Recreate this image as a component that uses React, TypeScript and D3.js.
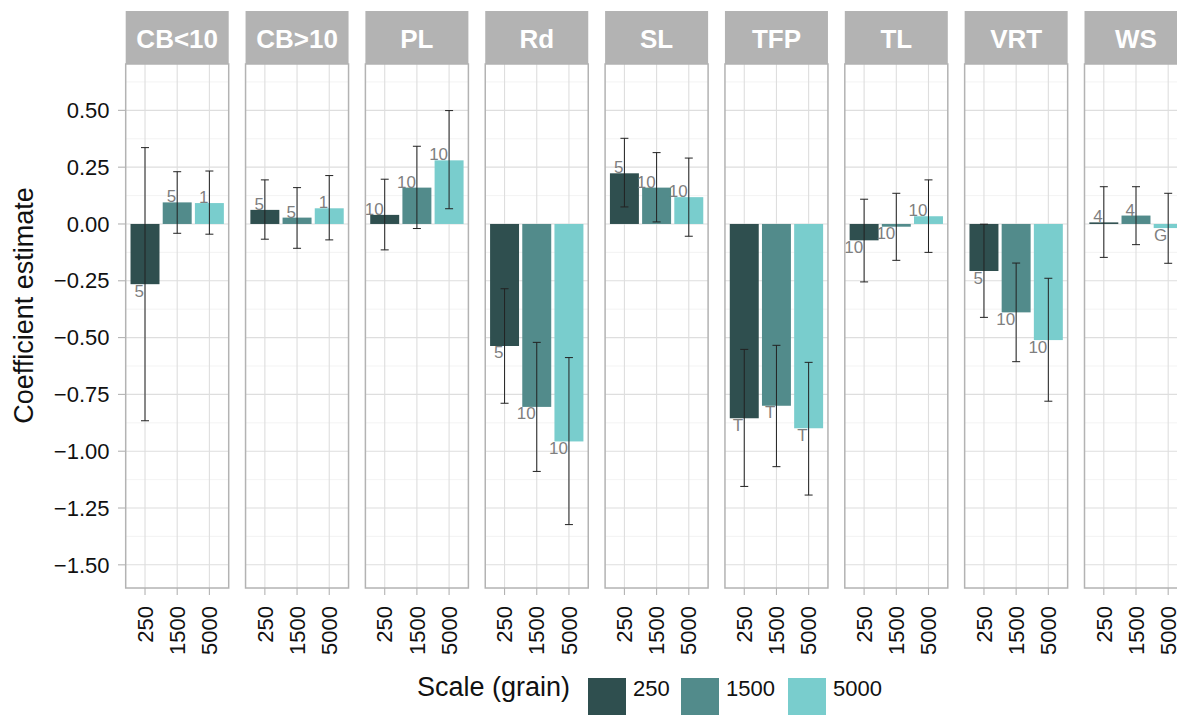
import * as d3 from "d3";

// facets, grains and per-grain estimates
const facets = ["CB<10", "CB>10", "PL", "Rd", "SL", "TFP", "TL", "VRT", "WS"];
const grains = ["250", "1500", "5000"];
const grainColors = ["#2F4F4F", "#528B8B", "#79CDCD"];

const est250 = [-0.265, 0.062, 0.04, -0.537, 0.223, -0.855, -0.072, -0.207, 0.007];
const est1500 = [0.095, 0.028, 0.16, -0.805, 0.16, -0.8, -0.012, -0.389, 0.037];
const est5000 = [0.092, 0.069, 0.28, -0.957, 0.118, -0.899, 0.034, -0.511, -0.018];

const lo250 = [-0.866, -0.067, -0.114, -0.789, 0.075, -1.155, -0.255, -0.411, -0.147];
const hi250 = [0.336, 0.194, 0.197, -0.285, 0.377, -0.552, 0.109, -0.001, 0.164];
const lo1500 = [-0.041, -0.107, -0.02, -1.089, 0.009, -1.068, -0.16, -0.606, -0.091];
const hi1500 = [0.23, 0.16, 0.342, -0.521, 0.314, -0.534, 0.135, -0.172, 0.164];
const lo5000 = [-0.045, -0.07, 0.067, -1.323, -0.054, -1.193, -0.125, -0.78, -0.173];
const hi5000 = [0.233, 0.213, 0.499, -0.588, 0.29, -0.609, 0.194, -0.239, 0.135];

const lab250 = ["5", "5", "10", "5", "5", "T", "10", "5", "4"];
const lab1500 = ["5", "5", "10", "10", "10", "T", "10", "10", "4"];
const lab5000 = ["1", "1", "10", "10", "10", "T", "10", "10", "G"];

const yTicks = [-1.5, -1.25, -1.0, -0.75, -0.5, -0.25, 0, 0.25, 0.5];
const yMinor = [-1.375, -1.125, -0.875, -0.625, -0.375, -0.125, 0.125, 0.375, 0.625];

const seriesEst = [est250, est1500, est5000];
const seriesLo = [lo250, lo1500, lo5000];
const seriesHi = [hi250, hi1500, hi5000];
const seriesLab = [lab250, lab1500, lab5000];

const W = 1177;
const H = 715;
const FONT = "'Liberation Sans', Arial, Helvetica, sans-serif";

export default function App() {
  const panelTop = 64;
  const panelBottom = 588;
  const stripTop = 11;
  const panelWidth = 103;
  const firstLeft = 125.7;
  const pitch = 119.85;

  const y = d3.scaleLinear([-1.602, 0.704], [panelBottom, panelTop]);
  const x = d3.scalePoint(grains, [0, panelWidth]).padding(0.6);
  const barW = x.step() * 0.9;
  const fmt = d3.format(".2f");

  const grid = "#DEDEDE";
  const border = "#B3B3B3";

  return (
    <svg width={W} height={H} style={{ position: "absolute", left: 0, top: 0, background: "white" }}
      fontFamily={FONT}>
      {/* y tick labels */}
      {yTicks.map((t) => (
        <g key={t}>
          <text x={109.5} y={y(t)} dy="0.35em" textAnchor="end" fontSize={22} fill="#111">{fmt(t)}</text>
          <line x1={118} x2={firstLeft} y1={y(t)} y2={y(t)} stroke={border} strokeWidth={1.1} />
        </g>
      ))}
      <text transform={`translate(33,${(stripTop + panelBottom) / 2 + 6}) rotate(-90)`} textAnchor="middle"
        fontSize={27} fill="#111">Coefficient estimate</text>

      {facets.map((f, fi) => {
        const left = firstLeft + fi * pitch;
        return (
          <g key={f} transform={`translate(${left},0)`}>
            {/* strip */}
            <rect x={0} y={stripTop} width={panelWidth} height={panelTop - stripTop} fill="#B3B3B3" />
            <text x={panelWidth / 2} y={48} textAnchor="middle" fontSize={26} fontWeight="bold" fill="white">{f}</text>
            {/* grid */}
            <rect x={0} y={panelTop} width={panelWidth} height={panelBottom - panelTop} fill="white" />
            {yMinor.map((t) => (
              <line key={"m" + t} x1={0} x2={panelWidth} y1={y(t)} y2={y(t)} stroke="#F0F0F0" strokeWidth={0.8} />
            ))}
            {yTicks.map((t) => (
              <line key={"g" + t} x1={0} x2={panelWidth} y1={y(t)} y2={y(t)} stroke={grid} strokeWidth={1.1} />
            ))}
            {grains.map((g) => (
              <line key={"v" + g} x1={x(g)} x2={x(g)} y1={panelTop} y2={panelBottom} stroke={grid} strokeWidth={1.1} />
            ))}
            {/* bars */}
            {grains.map((g, gi) => {
              const v = seriesEst[gi][fi];
              return (
                <rect key={"b" + g} x={(x(g) as number) - barW / 2} width={barW}
                  y={Math.min(y(v), y(0))} height={Math.abs(y(v) - y(0))} fill={grainColors[gi]} />
              );
            })}
            {/* error bars */}
            {grains.map((g, gi) => {
              const cx = x(g) as number;
              const lo = y(seriesLo[gi][fi]);
              const hi = y(seriesHi[gi][fi]);
              return (
                <g key={"e" + g} stroke="#222" strokeWidth={1}>
                  <line x1={cx} x2={cx} y1={lo} y2={hi} />
                  <line x1={cx - 4} x2={cx + 4} y1={lo} y2={lo} />
                  <line x1={cx - 4} x2={cx + 4} y1={hi} y2={hi} />
                </g>
              );
            })}
            {/* count labels */}
            {grains.map((g, gi) => {
              const v = seriesEst[gi][fi];
              const cx = (x(g) as number) - 1;
              const ty = v >= 0 ? y(v) : y(v) + 12.5;
              return (
                <text key={"l" + g} x={cx} y={ty} textAnchor="end" fontSize={17} fill="#7F7F7F">
                  {seriesLab[gi][fi]}
                </text>
              );
            })}
            {/* border */}
            <rect x={0} y={panelTop} width={panelWidth} height={panelBottom - panelTop} fill="none"
              stroke={border} strokeWidth={1.5} />
            {/* x ticks + labels */}
            {grains.map((g) => (
              <g key={"t" + g}>
                <line x1={x(g)} x2={x(g)} y1={panelBottom} y2={595} stroke={border} strokeWidth={1.1} />
                <text transform={`translate(${x(g)},606) rotate(-90)`} dy="0.35em" textAnchor="end"
                  fontSize={22} fill="#111">{g}</text>
              </g>
            ))}
          </g>
        );
      })}

      {/* legend */}
      <text x={417} y={696} fontSize={27} fill="#111">Scale (grain)</text>
      {grains.map((g, gi) => {
        const kx = [588, 681, 788][gi];
        return (
          <g key={"k" + g}>
            <rect x={kx} y={678} width={38} height={38} fill={grainColors[gi]} />
            <text x={kx + 45} y={696} fontSize={22} fill="#111">{g}</text>
          </g>
        );
      })}
    </svg>
  );
}
